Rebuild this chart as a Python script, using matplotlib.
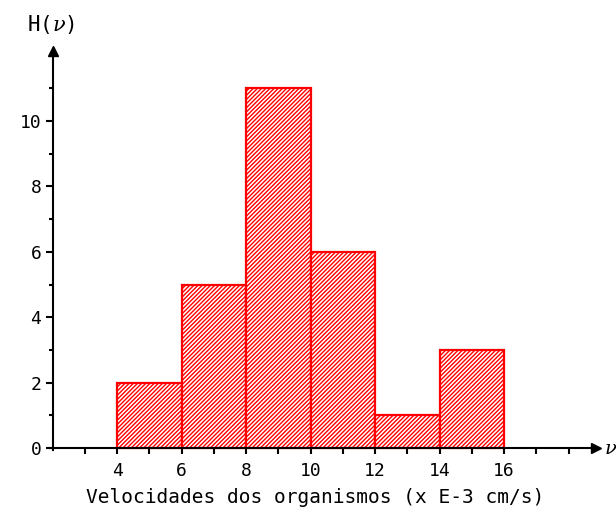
import matplotlib.pyplot as plt

# Histogram of organism speeds (class edges in x E-3 cm/s)
edges = [4, 6, 8, 10, 12, 14, 16]
counts = [2, 5, 11, 6, 1, 3]

x_labels = ['4', '6', '8', '10', '12', '14', '16']
y_labels = ['0', '2', '4', '6', '8', '10']

plt.rcParams['hatch.linewidth'] = 1.0
plt.rcParams['font.family'] = 'DejaVu Sans Mono'
plt.rcParams['mathtext.fontset'] = 'dejavuserif'

fig = plt.figure(figsize=(6.16, 5.13), dpi=100)
ax = fig.add_axes([0.0329, 0.0948, 0.9686, 0.8924])
ax.set_xlim(1, 19.5)
ax.set_ylim(-0.5, 13.5)

widths = [edges[i + 1] - edges[i] for i in range(len(counts))]
ax.bar(edges[:-1], counts, width=widths, align='edge', color='white',
       edgecolor='#ff0000', hatch='////////', linewidth=1.6, zorder=2)

# axes drawn through the origin with arrow heads
for s in ['top', 'right']:
    ax.spines[s].set_visible(False)
ax.spines['left'].set_position(('data', 2))
ax.spines['bottom'].set_position(('data', 0))
ax.spines['left'].set_bounds(-0.05, 12.05)
ax.spines['bottom'].set_bounds(1.9, 18.7)
for s in ['left', 'bottom']:
    ax.spines[s].set_linewidth(1.5)
    ax.spines[s].set_zorder(3)
ax.plot(2, 12.15, marker='^', color='black', markersize=7, clip_on=False, zorder=4)
ax.plot(18.85, 0, marker='>', color='black', markersize=7, clip_on=False, zorder=4)

ax.set_xticks(range(3, 19))
ax.set_xticklabels([str(v) if str(v) in x_labels else '' for v in range(3, 19)])
ax.tick_params(axis='x', direction='out', length=4, width=1.5, labelsize=13, pad=6)

ax.set_yticks(range(0, 11, 2))
ax.set_yticklabels(y_labels)
ax.set_yticks(range(1, 12, 2), minor=True)
ax.tick_params(axis='y', which='major', direction='out', length=5, width=1.5, labelsize=13, pad=3)
ax.tick_params(axis='y', which='minor', direction='out', length=3, width=1.5)

ax.text(1.2, 12.95, 'H($\\nu$)', fontsize=15, ha='left', va='center')
ax.text(19.1, 0, '$\\nu$', fontsize=14, ha='left', va='center', clip_on=False)
ax.text(10.15, -1.5, 'Velocidades dos organismos (x E-3 cm/s)', fontsize=14,
        ha='center', va='center')

fig.savefig('out.png', dpi=100)
